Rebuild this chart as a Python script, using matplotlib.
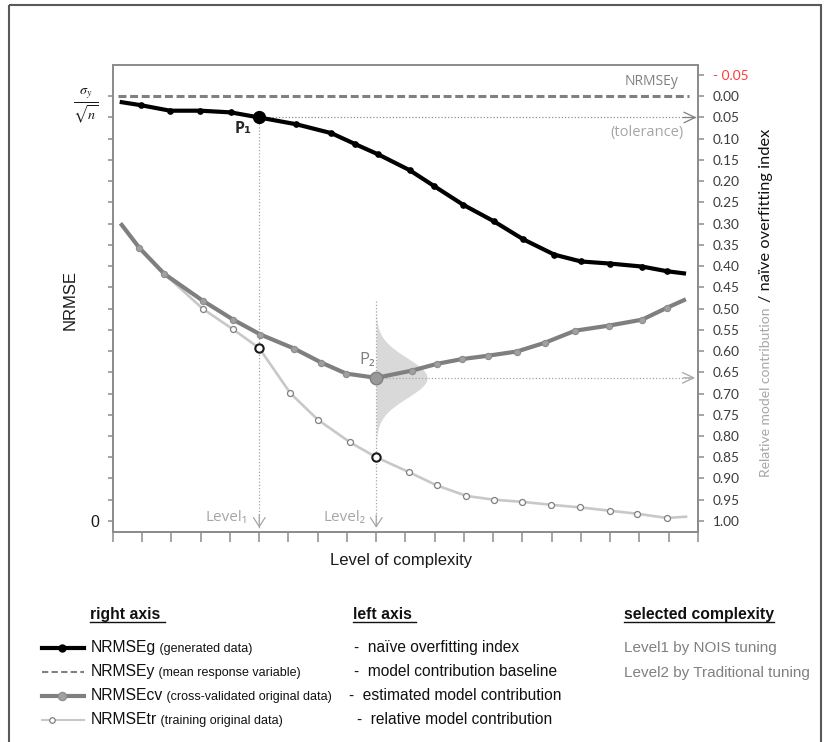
import numpy as np
import matplotlib
matplotlib.use("Agg")
import matplotlib.pyplot as plt
from matplotlib.patches import Rectangle

plt.rcParams['mathtext.fontset'] = 'stix'

# ---------------- data ----------------
# x: level of complexity (tick units), y: relative model contribution / naive overfitting index (right axis, inverted)
complexity_ticks = [0, 1, 2, 3, 4, 5, 6, 7, 8, 9, 10, 11, 12, 13, 14, 15, 16, 17, 18, 19, 20]
right_ticks = [-0.05, 0.00, 0.05, 0.10, 0.15, 0.20, 0.25, 0.30, 0.35, 0.40, 0.45,
               0.50, 0.55, 0.60, 0.65, 0.70, 0.75, 0.80, 0.85, 0.90, 0.95, 1.00]
right_labels = ['- 0.05', '0.00', '0.05', '0.10', '0.15', '0.20', '0.25', '0.30', '0.35', '0.40', '0.45',
                '0.50', '0.55', '0.60', '0.65', '0.70', '0.75', '0.80', '0.85', '0.90', '0.95', '1.00']
left_ticks = right_ticks[1:]
left_labels = [r'$\frac{\sigma_y}{\sqrt{n}}$'] + [''] * 19 + ['0']

g_x = [0.30, 0.95, 1.95, 2.99, 4.03, 5.00, 6.27, 7.47, 8.29, 9.07, 10.14, 10.99, 11.96, 13.01,
       14.03, 15.09, 16.00, 17.00, 18.09, 18.94, 19.52]
g_y = [0.014, 0.021, 0.034, 0.034, 0.038, 0.050, 0.066, 0.087, 0.113, 0.137, 0.174, 0.212, 0.255,
       0.294, 0.337, 0.373, 0.389, 0.394, 0.401, 0.412, 0.417]

cv_x = [0.30, 0.90, 1.75, 3.06, 4.11, 5.04, 6.19, 7.12, 7.97, 9.00, 10.22, 11.08, 11.92, 12.81,
        13.81, 14.78, 15.80, 16.96, 18.09, 18.94, 19.52]
cv_y = [0.303, 0.357, 0.418, 0.481, 0.526, 0.561, 0.594, 0.627, 0.653, 0.663, 0.646, 0.630, 0.619,
        0.611, 0.601, 0.580, 0.552, 0.540, 0.526, 0.498, 0.480]

tr_x = [0.30, 0.90, 1.75, 3.08, 4.11, 5.00, 6.06, 7.01, 8.11, 9.00, 10.12, 11.06, 12.08, 13.02,
        13.99, 14.98, 15.96, 17.00, 17.92, 18.94, 19.59]
tr_y = [0.303, 0.357, 0.418, 0.501, 0.549, 0.593, 0.699, 0.762, 0.815, 0.850, 0.885, 0.916, 0.941,
        0.950, 0.955, 0.962, 0.968, 0.976, 0.983, 0.993, 0.990]

nrmse_y_level = 0.0
tolerance = 0.05
level1 = 5.0
level2 = 9.0
p1_val = 0.050
p2_val = 0.663
gauss_sigma = 0.047
gauss_peak = 1.74

# ---------------- styles ----------------
FA = ['Liberation Sans', 'DejaVu Sans']
FC = ['Lato', 'DejaVu Sans']
FO = ['Open Sans', 'DejaVu Sans']
AXC = '#8c8c8c'
DOT = '#a6a6a6'

W, H = 829, 742
fig = plt.figure(figsize=(W / 100, H / 100), dpi=100)
fig.patch.set_facecolor('white')

ov = fig.add_axes([0, 0, 1, 1])
ov.set_xlim(0, W)
ov.set_ylim(H, 0)
ov.axis('off')
ov.add_patch(Rectangle((9, 5), 812, 760, fill=False, edgecolor='#595959', lw=1.5, clip_on=False))

L, R, T, B = 113, 698, 65, 532
ax = fig.add_axes([L / W, 1 - B / H, (R - L) / W, (B - T) / H])
ax.set_xlim(0, 20)
ax.set_ylim(1.026, -0.0736)
ax.set_xticks(complexity_ticks)
ax.set_xticklabels([])
ax.set_yticks(left_ticks)
ax.set_yticklabels(left_labels)
for s in ax.spines.values():
    s.set_color(AXC)
    s.set_linewidth(1.3)
ax.tick_params(axis='x', direction='out', length=7.5, width=1.1, color=AXC)
ax.tick_params(axis='y', direction='out', length=3.6, width=1.1, color=AXC, pad=6.5,
               labelsize=11.5, labelcolor='#1a1a1a')
for lab in ax.get_yticklabels():
    lab.set_fontfamily(FA)
ax.get_yticklabels()[0].set_fontsize(14.5)

tw = ax.twinx()
tw.set_ylim(ax.get_ylim())
tw.set_yticks(right_ticks)
tw.set_yticklabels(right_labels)
for s in tw.spines.values():
    s.set_color(AXC)
    s.set_linewidth(1.3)
tw.tick_params(axis='y', direction='out', length=4.5, width=1.1, color=AXC, pad=6,
               labelsize=9.8, labelcolor='#3a3a3a')
for lab in tw.get_yticklabels():
    lab.set_fontfamily(FC)
tw.get_yticklabels()[0].set_color('#ff3b3b')

# gaussian illustration around P2
gy = np.linspace(p2_val - 4 * gauss_sigma, p2_val + 4 * gauss_sigma, 300)
gx = level2 + gauss_peak * np.exp(-0.5 * ((gy - p2_val) / gauss_sigma) ** 2)
ax.fill_betweenx(gy, level2, gx, color='#d9d9d9', lw=0, zorder=1)

# guide lines
tip = 1.016
dotls = (0, (1, 1.6))
ax.plot([level1, level1], [p1_val, tip], color=DOT, lw=0.9, ls=dotls, zorder=2)
ax.plot([level2, level2], [p2_val - 3.85 * gauss_sigma, tip], color=DOT, lw=0.9, ls=dotls, zorder=2)
ax.plot([level1, 19.93], [tolerance, tolerance], color='#909090', lw=0.9, ls=dotls, zorder=2)
ax.plot([level2, 19.88], [p2_val, p2_val], color=DOT, lw=0.9, ls=dotls, zorder=2)
for lx in (level1, level2):
    ax.annotate('', xy=(lx, tip), xytext=(lx, tip - 0.03),
                arrowprops=dict(arrowstyle='->,head_length=0.65,head_width=0.42', color=DOT, lw=0.9,
                                shrinkA=0, shrinkB=0), zorder=2)
ax.annotate('', xy=(19.95, tolerance), xytext=(19.5, tolerance),
            arrowprops=dict(arrowstyle='->,head_length=0.8,head_width=0.38', color='#808080', lw=0.9,
                            shrinkA=0, shrinkB=0), zorder=2)
ax.annotate('', xy=(19.9, p2_val), xytext=(19.5, p2_val),
            arrowprops=dict(arrowstyle='->,head_length=0.8,head_width=0.38', color=DOT, lw=0.9,
                            shrinkA=0, shrinkB=0), zorder=2)

# NRMSEy baseline
ax.plot([0.17, 19.7], [nrmse_y_level, nrmse_y_level], color='#808080', lw=2.2,
        ls=(0, (2.6, 1.2)), zorder=5)

# NRMSEtr
ax.plot(tr_x, tr_y, color='#c8c8c8', lw=1.9, zorder=3)
tr_mk = [i for i in range(3, len(tr_x) - 1) if i not in (5, 9)]
ax.plot([tr_x[i] for i in tr_mk], [tr_y[i] for i in tr_mk], 'o', ms=4.3, mfc='white',
        mec='#7f7f7f', mew=0.9, zorder=3.5)
ax.plot([tr_x[5], tr_x[9]], [tr_y[5], tr_y[9]], 'o', ms=6, mfc='white', mec='#1a1a1a',
        mew=1.5, zorder=3.6)

# NRMSEcv
ax.plot(cv_x, cv_y, color='#7f7f7f', lw=3, zorder=4)
cv_mk = [i for i in range(1, len(cv_x) - 1) if i != 9]
ax.plot([cv_x[i] for i in cv_mk], [cv_y[i] for i in cv_mk], 'o', ms=4.5, mfc='#a0a0a0',
        mec='#8c8c8c', mew=0.8, zorder=4.5)
ax.plot([cv_x[9]], [cv_y[9]], 'o', ms=9, mfc='#999999', mec='#808080', mew=1, zorder=4.6)

# NRMSEg
ax.plot(g_x, g_y, color='black', lw=3, zorder=5)
g_mk = [i for i in range(1, len(g_x) - 1) if i != 5]
ax.plot([g_x[i] for i in g_mk], [g_y[i] for i in g_mk], 'o', ms=3.8, color='black', zorder=5.5)
ax.plot([g_x[5]], [g_y[5]], 'o', ms=8.5, color='black', zorder=5.6)

# in-plot labels
ax.text(4.44, 0.078, 'P₁', ha='center', va='center', fontsize=11.5, fontweight='bold',
        color='#262626', family=FO, zorder=6)
ax.text(8.70, 0.622, 'P₂', ha='center', va='center', fontsize=12, color='#7f7f7f', family=FO, zorder=6)
ax.text(4.61, 0.993, 'Level₁', ha='right', va='center', fontsize=11, color='#a6a6a6', family=FO)
ax.text(8.63, 0.993, 'Level₂', ha='right', va='center', fontsize=11, color='#a6a6a6', family=FO)
ax.text(19.32, -0.034, 'NRMSEy', ha='right', va='center', fontsize=10, color='#7f7f7f', family=FO)
ax.text(19.52, 0.085, '(tolerance)', ha='right', va='center', fontsize=10.5, color='#a6a6a6', family=FO)

# axis titles
ov.text(70, 300, 'NRMSE', rotation=90, ha='center', va='center', fontsize=12, family=FA, color='#1a1a1a')
ov.text(401, 561, 'Level of complexity', ha='center', va='center', fontsize=12, family=FA, color='#1a1a1a')
ov.text(766, 304, 'Relative model contribution ', rotation=90, ha='center', va='top',
        fontsize=10, family=FC, color='#a6a6a6')
ov.text(766, 302, '/ naïve overfitting index', rotation=90, ha='center', va='bottom',
        fontsize=11.8, family=FC, color='#111111')

# ---------------- legend block ----------------
hdr_base = 619
headers = [(90, 'right axis '), (353, 'left axis '), (624, 'selected complexity')]
hdr_texts = [ov.text(x, hdr_base, s, ha='left', va='baseline', fontsize=11.3, fontweight='bold',
                     family=FA, color='#111111') for x, s in headers]

row_base = [652, 676, 700, 724]
names = ['NRMSEg', 'NRMSEy', 'NRMSEcv', 'NRMSEtr']
descs = [' (generated data)', ' (mean response variable)', ' (cross-validated original data)',
         ' (training original data)']
name_texts = [ov.text(91, yb, n, ha='left', va='baseline', fontsize=11.3, family=FA, color='#111111')
              for yb, n in zip(row_base, names)]

left_col = [(354, '-  naïve overfitting index'), (354, '-  model contribution baseline'),
            (349, '-  estimated model contribution'), (357, '-  relative model contribution')]
for yb, (x, s) in zip(row_base, left_col):
    ov.text(x, yb, s, ha='left', va='baseline', fontsize=11.2, family=FA, color='#111111')

ov.text(624, row_base[0], 'Level1 by NOIS tuning', ha='left', va='baseline', fontsize=11,
        family=FA, color='#808080')
ov.text(624, row_base[1] + 1, 'Level2 by Traditional tuning', ha='left', va='baseline', fontsize=11,
        family=FA, color='#808080')

# legend keys
ky = [yb - 4 for yb in row_base]
ov.plot([42, 84], [ky[0], ky[0]], color='black', lw=3)
ov.plot([62], [ky[0]], 'o', ms=5, color='black')
ov.plot([42, 84], [ky[1], ky[1]], color='#808080', lw=1.5, ls=(0, (3, 1.6)))
ov.plot([42, 84], [ky[2], ky[2]], color='#7f7f7f', lw=3)
ov.plot([62], [ky[2]], 'o', ms=6, mfc='#a0a0a0', mec='#8c8c8c', mew=0.8)
ov.plot([42, 84], [ky[3], ky[3]], color='#c8c8c8', lw=1.5)
ov.plot([52], [ky[3]], 'o', ms=4, mfc='white', mec='#7f7f7f', mew=0.9)

fig.canvas.draw()
rend = fig.canvas.get_renderer()
for t, yb, d in zip(name_texts, row_base, descs):
    bb = t.get_window_extent(rend)
    ov.text(bb.x1, yb, d, ha='left', va='baseline', fontsize=9, family=FA, color='#111111')
for t in hdr_texts:
    bb = t.get_window_extent(rend)
    ov.plot([bb.x0, bb.x1], [hdr_base + 2.5, hdr_base + 2.5], color='#111111', lw=1.0)

fig.savefig('out.png', dpi=100)
